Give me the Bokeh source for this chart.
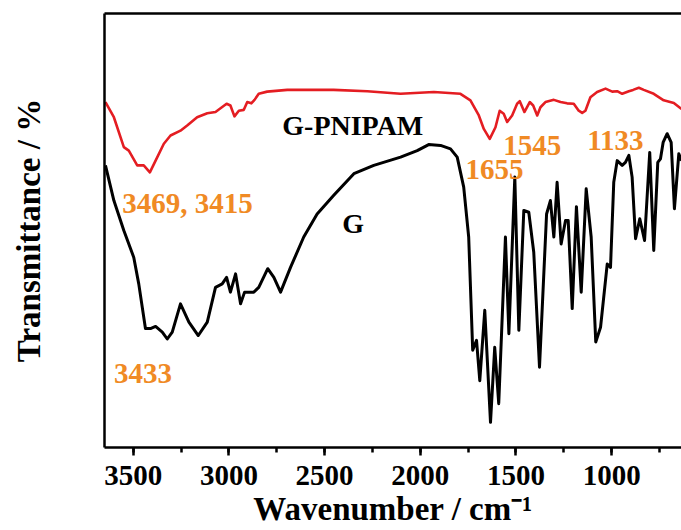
from bokeh.plotting import figure
from bokeh.models import Range1d, LinearAxis, FixedTicker, SingleIntervalTicker, ColumnDataSource
from bokeh.core.properties import value
from bokeh.embed import file_html
from bokeh.resources import INLINE

# G-PNIPAM spectrum (wavenumber cm^-1, transmittance a.u.)
red_wn = [3645, 3601, 3549, 3523, 3479, 3445, 3413, 3383, 3340, 3305,
          3253, 3218, 3166, 3113, 3070, 3012, 2992, 2971, 2948, 2922,
          2904, 2883, 2866, 2844, 2800, 2695, 2453, 2277, 2103, 1929,
          1790, 1738, 1694, 1668, 1637, 1607, 1585, 1564, 1546, 1520,
          1494, 1480, 1456, 1428, 1410, 1389, 1372, 1346, 1302, 1267,
          1233, 1198, 1172, 1154, 1137, 1111, 1076, 1032, 997, 971,
          945, 910, 888, 858, 832, 780, 728, 675, 635]
red_t = [79.6, 76.1, 69.2, 68.4, 65.0, 65.0, 63.4, 66.1, 70.0, 71.9,
         73.0, 74.2, 76.1, 77.0, 77.3, 79.2, 78.8, 76.3, 77.6, 77.8,
         79.6, 79.3, 80.1, 81.5, 82.0, 82.4, 82.4, 82.1, 81.5, 81.9,
         81.5, 80.0, 76.5, 73.4, 71.1, 73.8, 77.6, 76.9, 75.0, 76.5,
         79.2, 79.8, 77.3, 79.6, 78.8, 76.5, 78.4, 79.6, 80.1, 79.6,
         79.3, 79.2, 77.6, 77.1, 77.6, 80.7, 81.9, 82.7, 82.0, 82.1,
         81.5, 82.1, 82.4, 82.9, 82.4, 81.5, 80.0, 79.4, 78.0]

# G spectrum
blk_wn = [3645, 3601, 3549, 3497, 3471, 3436, 3410, 3383, 3348, 3322,
          3296, 3253, 3209, 3160, 3113, 3070, 3035, 3012, 2992, 2965,
          2939, 2918, 2870, 2844, 2797, 2765, 2730, 2678, 2609, 2539,
          2452, 2347, 2243, 2103, 2016, 1956, 1894, 1842, 1807, 1773,
          1747, 1726, 1706, 1689, 1663, 1633, 1611, 1590, 1555, 1537,
          1506, 1485, 1459, 1433, 1407, 1377, 1340, 1320, 1302, 1285,
          1264, 1241, 1227, 1206, 1184, 1159, 1133, 1107, 1083, 1058,
          1023, 1006, 989, 971, 945, 928, 910, 893, 875, 853,
          828, 801, 780, 759, 745, 731, 710, 689, 672, 649,
          635]
blk_t = [65.0, 56.9, 50.0, 43.8, 37.7, 27.4, 27.4, 27.9, 26.6, 25.0,
         26.6, 33.1, 28.9, 25.8, 28.9, 36.9, 37.7, 39.2, 35.8, 40.0,
         33.1, 35.8, 35.8, 36.9, 41.2, 39.2, 35.8, 41.5, 48.5, 53.8,
         58.1, 63.1, 65.0, 66.9, 68.4, 69.8, 69.6, 68.8, 66.9, 60.0,
         48.5, 22.4, 24.7, 15.4, 31.6, 5.8, 23.1, 10.1, 48.5, 26.2,
         62.3, 27.0, 54.6, 54.2, 45.0, 18.5, 53.8, 56.9, 48.5, 61.1,
         46.9, 52.3, 52.3, 32.0, 55.5, 35.8, 59.6, 48.5, 24.3, 27.7,
         42.3, 41.5, 61.1, 66.1, 65.0, 65.7, 67.3, 62.3, 48.1, 52.7,
         47.7, 68.0, 45.4, 65.7, 66.5, 70.3, 72.3, 70.3, 55.0, 67.7,
         66.1]

# Peak annotations
peak_text = ["3469, 3415", "3433", "1655", "1545", "1133"]
peak_x = [3557, 3601, 1764, 1567, 1128]
peak_y = [56.3, 17.0, 64.0, 69.7, 70.7]

# Curve names
name_text = ["G-PNIPAM", "G"]
name_x = [2721, 2408]
name_y = [74.2, 51.6]

RED = "#e41d22"
ORANGE = "#f08a24"
FONT = "Liberation Serif"

p = figure(width=681, height=530, output_backend="svg", toolbar_location=None,
           x_range=Range1d(3650, 635), y_range=Range1d(0, 100),
           x_axis_location=None, y_axis_location=None)
p.outline_line_color = None
p.grid.visible = False
p.min_border_left = 104
p.min_border_right = 0
p.min_border_top = 13
p.min_border_bottom = 83
p.background_fill_color = "white"
p.border_fill_color = "white"

xaxis = LinearAxis(ticker=SingleIntervalTicker(interval=500, num_minor_ticks=2))
xaxis.axis_label = "Wavenumber / cm\u207b\u00b9"
xaxis.axis_line_width = 2.5
xaxis.major_tick_line_width = 2.5
xaxis.minor_tick_line_width = 2.5
xaxis.major_tick_in = 0
xaxis.major_tick_out = 8
xaxis.minor_tick_in = 0
xaxis.minor_tick_out = 5
xaxis.major_label_text_font = FONT
xaxis.major_label_text_font_style = "bold"
xaxis.major_label_text_font_size = "29px"
xaxis.major_label_text_color = "black"
xaxis.major_label_standoff = 10
xaxis.axis_label_text_font = FONT
xaxis.axis_label_text_font_style = "bold"
xaxis.axis_label_text_font_size = "33px"
xaxis.axis_label_text_color = "black"
xaxis.axis_label_standoff = 3
p.add_layout(xaxis, "below")

yaxis = LinearAxis(ticker=FixedTicker(ticks=[]))
yaxis.axis_label = "Transmittance / %"
yaxis.axis_line_width = 2.5
yaxis.major_tick_in = 0
yaxis.major_tick_out = 0
yaxis.minor_tick_in = 0
yaxis.minor_tick_out = 0
yaxis.axis_label_text_font = FONT
yaxis.axis_label_text_font_style = "bold"
yaxis.axis_label_text_font_size = "33px"
yaxis.axis_label_text_color = "black"
yaxis.axis_label_standoff = 58
p.add_layout(yaxis, "left")

topaxis = LinearAxis(ticker=FixedTicker(ticks=[]))
topaxis.axis_line_width = 2.5
topaxis.major_tick_in = 0
topaxis.major_tick_out = 0
topaxis.minor_tick_in = 0
topaxis.minor_tick_out = 0
p.add_layout(topaxis, "above")

p.line(red_wn, red_t, line_color=RED, line_width=2.6, line_join="round")
p.line(blk_wn, blk_t, line_color="black", line_width=3, line_join="round")

src_peaks = ColumnDataSource(dict(x=peak_x, y=peak_y, t=peak_text))
p.text(x="x", y="y", text="t", source=src_peaks, text_color=ORANGE,
       text_font=value(FONT), text_font_style="bold", text_font_size="29px",
       text_align="left", text_baseline="alphabetic")

src_names = ColumnDataSource(dict(x=name_x, y=name_y, t=name_text))
p.text(x="x", y="y", text="t", source=src_names, text_color="black",
       text_font=value(FONT), text_font_style="bold", text_font_size="28px",
       text_align="left", text_baseline="alphabetic")

open("out.html", "w").write(file_html(p, INLINE))
